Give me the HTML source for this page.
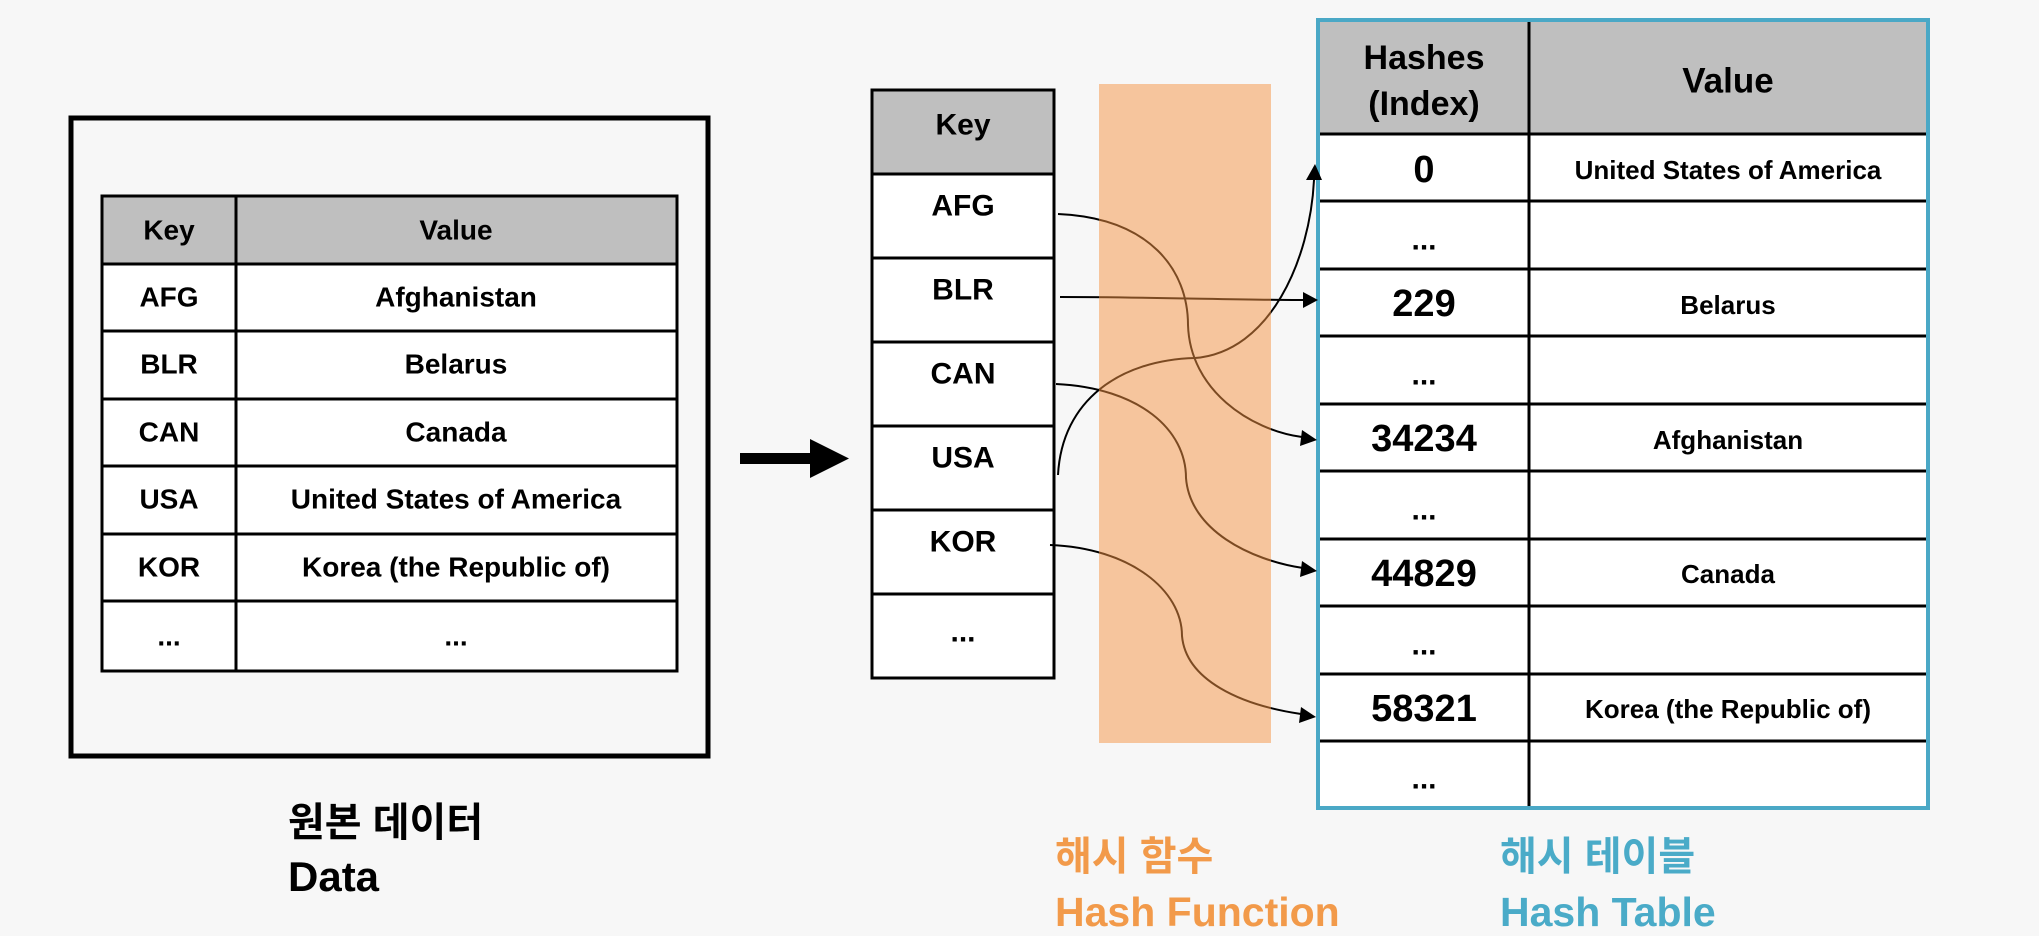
<!DOCTYPE html>
<html><head><meta charset="utf-8"><style>
html,body{margin:0;padding:0;background:#f7f7f7;}
svg{display:block}
text{font-family:"Liberation Sans","Noto Sans CJK KR","NanumGothic",sans-serif;font-weight:bold;fill:#000}
</style></head><body>
<svg width="2039" height="936" viewBox="0 0 2039 936" xmlns="http://www.w3.org/2000/svg">
<rect width="2039" height="936" fill="#f7f7f7"/>
<!-- left panel -->
<rect x="71" y="118" width="637" height="638" fill="none" stroke="#000" stroke-width="5"/>
<rect x="102" y="196" width="575" height="475" fill="#fff" stroke="#000" stroke-width="3"/>
<rect x="103.5" y="197.5" width="572" height="66" fill="#bfbfbf"/>
<g stroke="#000" stroke-width="3">
<line x1="236" y1="196" x2="236" y2="671"/>
<line x1="102" y1="264" x2="677" y2="264"/>
<line x1="102" y1="331" x2="677" y2="331"/>
<line x1="102" y1="399" x2="677" y2="399"/>
<line x1="102" y1="466" x2="677" y2="466"/>
<line x1="102" y1="534" x2="677" y2="534"/>
<line x1="102" y1="601" x2="677" y2="601"/>
</g>
<g font-size="28" text-anchor="middle" dominant-baseline="central">
<text x="169" y="230">Key</text><text x="456" y="230">Value</text>
<text x="169" y="297">AFG</text><text x="456" y="297">Afghanistan</text>
<text x="169" y="364">BLR</text><text x="456" y="364">Belarus</text>
<text x="169" y="432">CAN</text><text x="456" y="432">Canada</text>
<text x="169" y="499">USA</text><text x="456" y="499">United States of America</text>
<text x="169" y="567">KOR</text><text x="456" y="567">Korea (the Republic of)</text>
<text x="169" y="636">...</text><text x="456" y="636">...</text>
</g>
<text x="288" y="836" font-size="40">원본 데이터</text>
<text x="288" y="891" font-size="42">Data</text>
<!-- big arrow -->
<rect x="740" y="453" width="72" height="11" fill="#000"/>
<polygon points="810,439 849,458.5 810,478" fill="#000"/>
<!-- middle key table -->
<rect x="872" y="90" width="182" height="588" fill="#fff" stroke="#000" stroke-width="3"/>
<rect x="873.5" y="91.5" width="179" height="82" fill="#bfbfbf"/>
<g stroke="#000" stroke-width="3">
<line x1="872" y1="174" x2="1054" y2="174"/>
<line x1="872" y1="258" x2="1054" y2="258"/>
<line x1="872" y1="342" x2="1054" y2="342"/>
<line x1="872" y1="426" x2="1054" y2="426"/>
<line x1="872" y1="510" x2="1054" y2="510"/>
<line x1="872" y1="594" x2="1054" y2="594"/>
</g>
<g font-size="30" text-anchor="middle" dominant-baseline="central">
<text x="963" y="125">Key</text>
<text x="963" y="206">AFG</text>
<text x="963" y="290">BLR</text>
<text x="963" y="374">CAN</text>
<text x="963" y="458">USA</text>
<text x="963" y="542">KOR</text>
<text x="963" y="632">...</text>
</g>
<!-- hash table -->
<rect x="1318" y="20" width="610" height="788" fill="#fff"/>
<rect x="1318" y="20" width="610" height="114" fill="#bfbfbf"/>
<g stroke="#000" stroke-width="3">
<line x1="1529" y1="20" x2="1529" y2="808"/>
<line x1="1318" y1="134" x2="1928" y2="134"/>
<line x1="1318" y1="201" x2="1928" y2="201"/>
<line x1="1318" y1="269" x2="1928" y2="269"/>
<line x1="1318" y1="336" x2="1928" y2="336"/>
<line x1="1318" y1="404" x2="1928" y2="404"/>
<line x1="1318" y1="471" x2="1928" y2="471"/>
<line x1="1318" y1="539" x2="1928" y2="539"/>
<line x1="1318" y1="606" x2="1928" y2="606"/>
<line x1="1318" y1="674" x2="1928" y2="674"/>
<line x1="1318" y1="741" x2="1928" y2="741"/>
</g>
<rect x="1318" y="20" width="610" height="788" fill="none" stroke="#4aa8c6" stroke-width="4"/>
<g text-anchor="middle" dominant-baseline="central">
<text x="1424" y="58" font-size="34">Hashes</text>
<text x="1424" y="104" font-size="34">(Index)</text>
<text x="1728" y="81" font-size="35">Value</text>
<g font-size="38">
<text x="1424" y="170">0</text>
<text x="1424" y="304">229</text>
<text x="1424" y="439">34234</text>
<text x="1424" y="574">44829</text>
<text x="1424" y="709">58321</text>
</g>
<g font-size="30">
<text x="1424" y="240">...</text>
<text x="1424" y="375">...</text>
<text x="1424" y="510">...</text>
<text x="1424" y="645">...</text>
<text x="1424" y="779">...</text>
</g>
<g font-size="26">
<text x="1728" y="170">United States of America</text>
<text x="1728" y="305">Belarus</text>
<text x="1728" y="440">Afghanistan</text>
<text x="1728" y="574">Canada</text>
<text x="1728" y="709">Korea (the Republic of)</text>
</g>
</g>
<!-- connectors -->
<g fill="none" stroke="#000" stroke-width="2">
<path d="M1058 214 C1150 218, 1188 270, 1188 325 C1190 390, 1250 430, 1302 437"/>
<path d="M1060 297 C1150 297, 1240 300, 1303 300"/>
<path d="M1058 475 C1062 400, 1120 360, 1195 358 C1270 352, 1310 260, 1314 180"/>
<path d="M1056 384 C1140 388, 1186 430, 1186 478 C1190 530, 1250 560, 1303 568"/>
<path d="M1050 545 C1130 548, 1182 590, 1182 636 C1186 680, 1240 705, 1301 714"/>
</g>
<g fill="#000">
<polygon points="1318,300 1303,292 1303,308"/>
<polygon points="1317,440 1302,430 1300,446"/>
<polygon points="1315,164 1306,180 1322,180"/>
<polygon points="1317,571 1302,561 1300,577"/>
<polygon points="1316,717 1301,707 1299,723"/>
</g>
<!-- hash function overlay -->
<rect x="1099" y="84" width="172" height="659" fill="rgba(245,147,67,0.5)"/>
<text x="1055" y="870" font-size="40" style="fill:#f29a4a">해시 함수</text>
<text x="1055" y="926" font-size="41" style="fill:#f29a4a">Hash Function</text>
<text x="1500" y="870" font-size="40" style="fill:#4aabc8">해시 테이블</text>
<text x="1500" y="926" font-size="41" style="fill:#4aabc8">Hash Table</text>
</svg>
</body></html>
